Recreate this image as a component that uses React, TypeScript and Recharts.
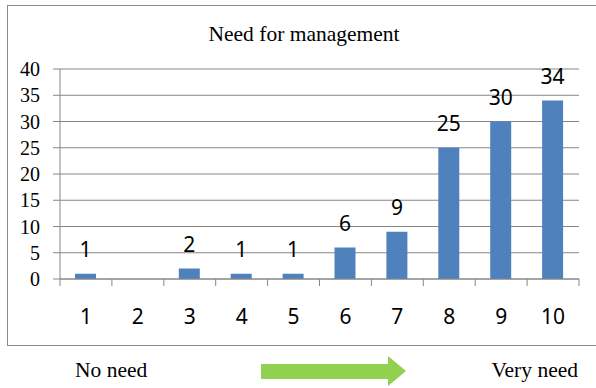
import { Bar, BarChart, CartesianGrid, LabelList, XAxis, YAxis } from "recharts";

const categories = ["1", "2", "3", "4", "5", "6", "7", "8", "9", "10"];
const counts = [1, 0, 2, 1, 1, 6, 9, 25, 30, 34];
const yTicks = [0, 5, 10, 15, 20, 25, 30, 35, 40];

const chartTitle = "Need for management";
const lowLabel = "No need";
const highLabel = "Very need";

const data = categories.map((cat, i) => ({ cat, value: counts[i] }));

const GRID = "#868686";
const BAR = "#4f81bd";
const ARROW = "#92d050";
const SERIF = "'Liberation Serif', 'Times New Roman', serif";
const SANS = "'Noto Sans', 'DejaVu Sans', sans-serif";

const CHART_W = 596;
const MARGIN = { top: 69, right: 17, left: 0, bottom: 0 };
const Y_AXIS_W = 60;
const LABEL_GAP = 30;
const TICK_LEN = 7;

// category label plus the small tick marks that fall between categories
function XTick({ x, y, payload, index }: any) {
  const half =
    payload?.offset ?? (CHART_W - MARGIN.left - MARGIN.right - Y_AXIS_W) / categories.length / 2;
  const axisY = y - LABEL_GAP;
  const last = index === categories.length - 1;
  return (
    <g>
      <line x1={x - half} x2={x - half} y1={axisY} y2={axisY + TICK_LEN} stroke={GRID} />
      {last && <line x1={x + half} x2={x + half} y1={axisY} y2={axisY + TICK_LEN} stroke={GRID} />}
      <text
        x={x}
        y={y}
        dy="0.71em"
        textAnchor="middle"
        fill="#000"
        style={{ fontFamily: SANS, fontSize: 21 }}
      >
        {payload.value}
      </text>
    </g>
  );
}

function YTick({ x, y, payload }: any) {
  return (
    <text
      x={x}
      y={y}
      dy="0.35em"
      textAnchor="end"
      fill="#000"
      style={{ fontFamily: SERIF, fontSize: 20 }}
    >
      {payload.value}
    </text>
  );
}

export default function App() {
  return (
    <div
      style={{
        position: "absolute",
        left: 0,
        top: 0,
        width: 596,
        height: 388,
        overflow: "hidden",
        background: "#fff",
      }}
    >
      <div
        style={{
          position: "absolute",
          left: 7,
          top: 5,
          width: 600,
          height: 339,
          border: "1px solid #8a8a8a",
        }}
      />
      <div style={{ position: "absolute", left: 0, top: 0 }}>
        <BarChart width={CHART_W} height={345} data={data} margin={MARGIN}>
          <CartesianGrid vertical={false} stroke={GRID} />
          <XAxis
            dataKey="cat"
            height={66}
            interval={0}
            axisLine={{ stroke: GRID }}
            tickLine={false}
            tickSize={0}
            tickMargin={LABEL_GAP}
            tick={<XTick />}
          />
          <YAxis
            width={Y_AXIS_W}
            domain={[0, 40]}
            ticks={yTicks}
            interval={0}
            axisLine={{ stroke: GRID }}
            tickLine={{ stroke: GRID }}
            tickSize={TICK_LEN}
            tickMargin={13}
            tick={<YTick />}
          />
          <Bar dataKey="value" fill={BAR} barSize={21} isAnimationActive={false}>
            <LabelList
              dataKey="value"
              position="top"
              offset={17}
              formatter={(v: number) => (v === 0 ? "" : v)}
              style={{ fill: "#000", fontSize: 21, fontFamily: SANS }}
            />
          </Bar>
        </BarChart>
      </div>
      <svg
        width={596}
        height={388}
        style={{ position: "absolute", left: 0, top: 0, pointerEvents: "none" }}
      >
        <text x={304} y={41} textAnchor="middle" fontFamily={SERIF} fontSize={21.5} fill="#000">
          {chartTitle}
        </text>
        <text x={75} y={377} fontFamily={SERIF} fontSize={21.5} fill="#000">
          {lowLabel}
        </text>
        <text x={578} y={377} textAnchor="end" fontFamily={SERIF} fontSize={21.5} fill="#000">
          {highLabel}
        </text>
        <polygon
          points="261,364 388,364 388,356 406,371 388,386 388,379 261,379"
          fill={ARROW}
        />
      </svg>
    </div>
  );
}
